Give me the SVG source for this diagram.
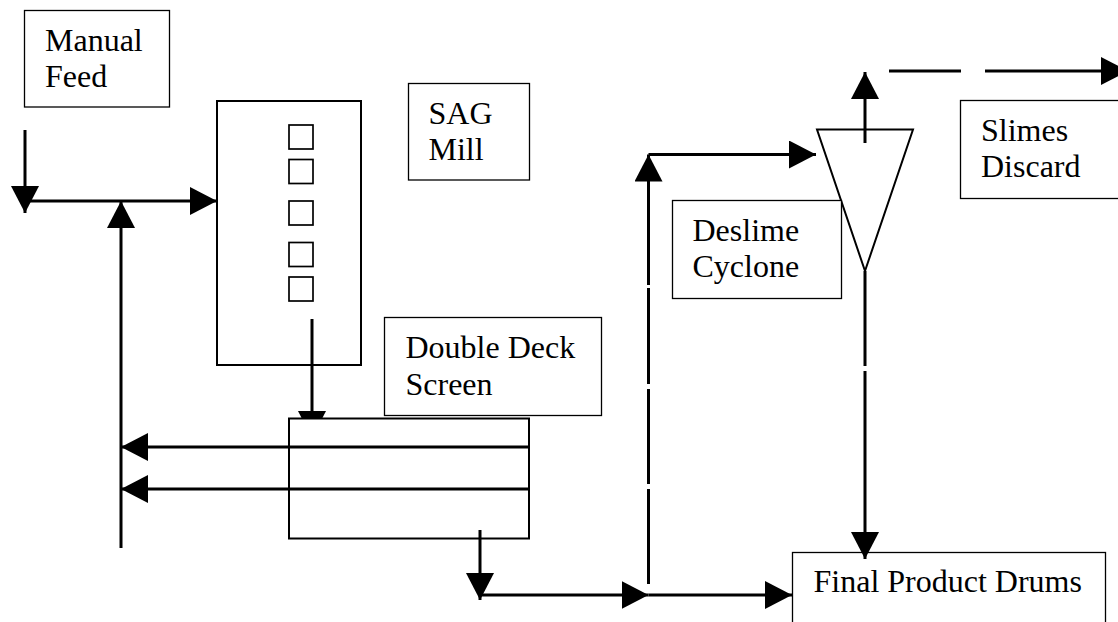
<svg xmlns="http://www.w3.org/2000/svg" width="1118" height="622" viewBox="0 0 1118 622">
  <style>
    .lbl { fill: #fff; stroke: #000; stroke-width: 1.3; }
    .unit { fill: none; stroke: #000; stroke-width: 2; }
    .sq { fill: none; stroke: #000; stroke-width: 1.7; }
    .t { font-family: "Liberation Serif", "Times New Roman", serif; font-size: 32px; fill: #000; }
    .c { fill: none; stroke: #000; stroke-width: 3; }
    .ca { fill: none; stroke: #000; stroke-width: 3; marker-end: url(#ah); }
  </style>
  <defs>
    <marker id="ah" markerUnits="userSpaceOnUse" markerWidth="27" markerHeight="28" viewBox="0 -14 27 28" refX="27" refY="0" orient="auto">
      <path d="M0,-14 L27,0 L0,14 z" fill="#000"/>
    </marker>
  </defs>
  <rect width="1118" height="622" fill="#fff"/>

  <g id="manual-feed">
    <rect class="lbl" x="24.5" y="10.5" width="145" height="96.5"/>
    <text class="t" x="45" y="51">Manual</text>
    <text class="t" x="45" y="87">Feed</text>
  </g>

  <g id="sag-mill-label">
    <rect class="lbl" x="408.5" y="83.5" width="121" height="96.5"/>
    <text class="t" x="428.5" y="124">SAG</text>
    <text class="t" x="428.5" y="160">Mill</text>
  </g>

  <g id="sag-mill">
    <rect class="unit" x="217" y="101" width="144" height="264"/>
    <rect class="sq" x="289" y="125" width="24" height="24"/>
    <rect class="sq" x="289" y="159.5" width="24" height="24"/>
    <rect class="sq" x="289" y="201" width="24" height="24"/>
    <rect class="sq" x="289" y="242.5" width="24" height="24"/>
    <rect class="sq" x="289" y="277" width="24" height="24"/>
  </g>

  <g id="screen-label">
    <rect class="lbl" x="384.5" y="317.5" width="217" height="98"/>
    <text class="t" x="405.5" y="358">Double Deck</text>
    <text class="t" x="405.5" y="394.5">Screen</text>
  </g>

  <g id="double-deck-screen">
    <rect class="unit" x="289" y="418.5" width="240" height="120"/>
  </g>

  <g id="deslime-cyclone">
    <polygon class="unit" points="817,129.5 913,129.5 865,271"/>
  </g>

  <g id="deslime-label">
    <rect class="lbl" x="672.5" y="200.5" width="169" height="98"/>
    <text class="t" x="692.5" y="241">Deslime</text>
    <text class="t" x="692.5" y="277">Cyclone</text>
  </g>

  <g id="slimes-discard">
    <rect class="lbl" x="960.5" y="100.5" width="170" height="98"/>
    <text class="t" x="981" y="141">Slimes</text>
    <text class="t" x="981" y="177">Discard</text>
  </g>

  <g id="final-product-drums">
    <rect class="lbl" x="792.5" y="552.5" width="313" height="90"/>
    <text class="t" x="813.5" y="592">Final Product Drums</text>
  </g>

  <g id="connectors">
    <path class="ca" d="M25,130 V213"/>
    <path class="ca" d="M25,201 H217"/>
    <path class="ca" d="M121,548 V201"/>
    <path class="ca" d="M529,447 H121"/>
    <path class="ca" d="M529,489 H121"/>
    <path class="c" d="M312,319 V411"/>
    <path d="M298,411 L326,411 L322.4,418 L301.6,418 z" fill="#000"/>
    <path class="ca" d="M480,530 V600"/>
    <path class="ca" d="M480,595 H648.5"/>
    <path class="ca" d="M648.5,595 H792"/>
    <path class="ca" d="M648.5,584 V154.5" stroke-dasharray="95 5 95 5 96 3 300"/>
    <path class="ca" d="M648.5,154.5 H816"/>
    <path class="ca" d="M865,143 V72"/>
    <path class="ca" d="M889,71 H1128" stroke-dasharray="72 24 400"/>
    <path class="ca" d="M865,271 V559" stroke-dasharray="95 5 400"/>
  </g>
</svg>
